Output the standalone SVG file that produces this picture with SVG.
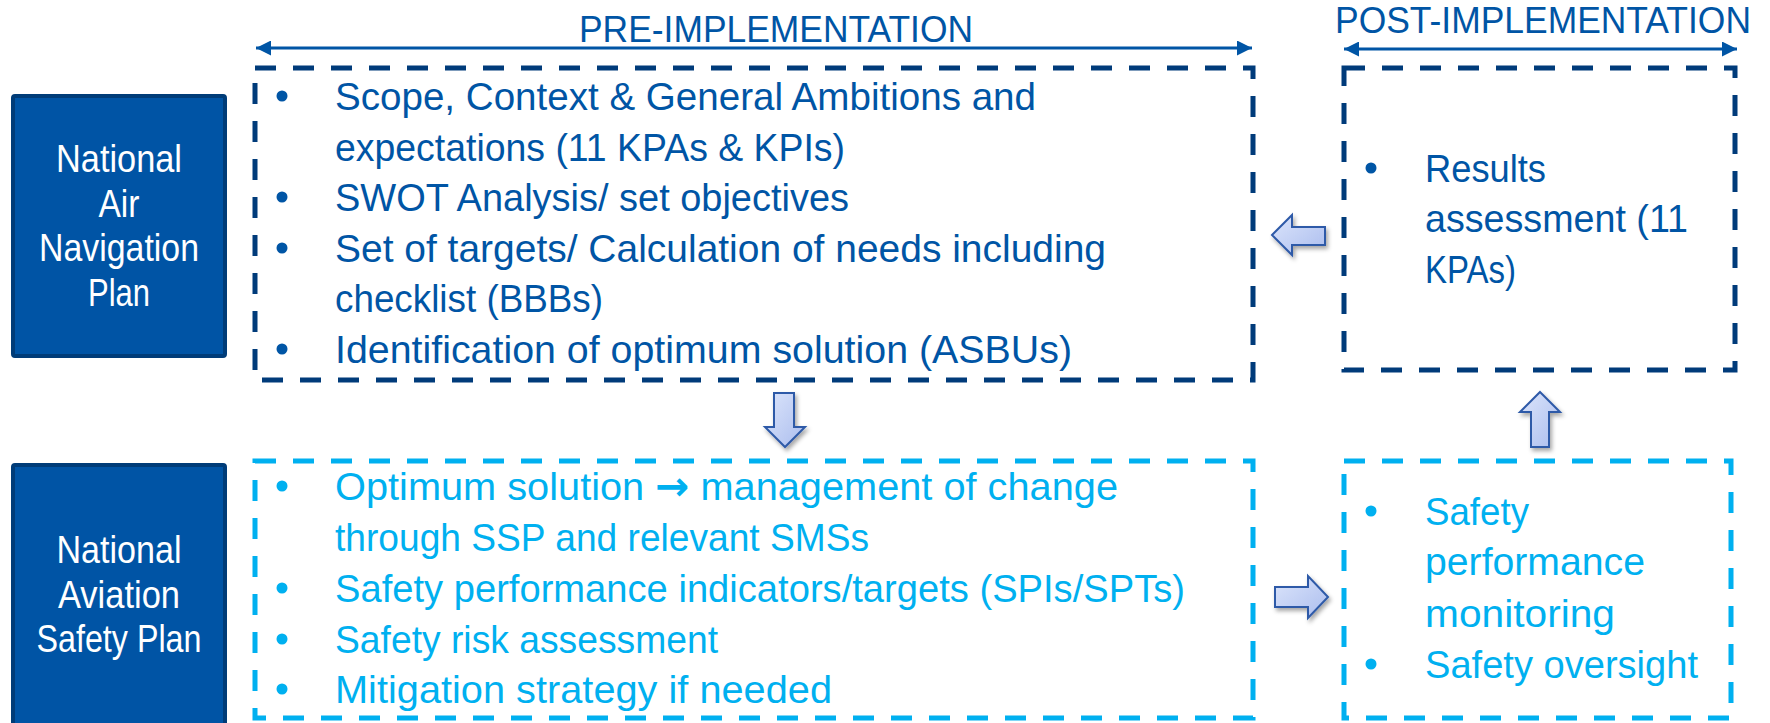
<svg xmlns="http://www.w3.org/2000/svg" width="1770" height="723" viewBox="0 0 1770 723">
<style>
text{font-family:"Liberation Sans",Arial,sans-serif;font-size:39px}
.dk{fill:#0055a5}
.lt{fill:#00b0f0}
.wh{fill:#ffffff;text-anchor:middle;font-size:38px}
.hdr{fill:#0055a5;font-size:36px}
.arr{font-family:"DejaVu Sans",sans-serif;font-size:40px;font-weight:bold}
.plan{fill:#0054a5;stroke:#003c78;stroke-width:4}
.dbox{fill:none;stroke:#003b7a;stroke-width:5;stroke-dasharray:21 17}
.lbox{fill:none;stroke:#00b0f0;stroke-width:5;stroke-dasharray:21 17}
.span{stroke:#0055a5;stroke-width:3;fill:none}
.blk{fill:url(#ag);stroke:#2e5aa8;stroke-width:2;filter:url(#sh)}
.bd{fill:#0055a5}
.bl{fill:#00b0f0}
</style>
<defs>
<marker id="ah" viewBox="0 0 10 10" refX="10" refY="5" markerWidth="17" markerHeight="15" markerUnits="userSpaceOnUse" orient="auto-start-reverse">
<path d="M0,0 L10,5 L0,10 z" fill="#0055a5"/>
</marker>
<linearGradient id="ag" x1="0" y1="0" x2="1" y2="1">
<stop offset="0" stop-color="#dce5fb"/>
<stop offset="1" stop-color="#abbdee"/>
</linearGradient>
<filter id="sh" x="-30%" y="-30%" width="160%" height="160%">
<feDropShadow dx="2" dy="3" stdDeviation="2" flood-color="#000" flood-opacity="0.35"/>
</filter>
</defs>

<g id="connectors">
<line class="span" x1="256" y1="48" x2="1252" y2="48" marker-start="url(#ah)" marker-end="url(#ah)"/>
<line class="span" x1="1344" y1="49" x2="1737" y2="49" marker-start="url(#ah)" marker-end="url(#ah)"/>
<polygon class="blk" points="1272,235 1292,215 1292,227 1325,227 1325,245 1292,245 1292,255"/>
<polygon class="blk" points="774,393 794,393 794,427 805,427 785,447 765,427 774,427"/>
<polygon class="blk" points="1540,392 1560,412 1549,412 1549,447 1531,447 1531,412 1520,412"/>
<polygon class="blk" points="1275,587 1308,587 1308,576 1328,597 1308,618 1308,607 1275,607"/>
</g>

<g id="headers">
<text class="hdr" x="579" y="42" textLength="394" lengthAdjust="spacingAndGlyphs">PRE-IMPLEMENTATION</text>
<text class="hdr" x="1335" y="33" textLength="416" lengthAdjust="spacingAndGlyphs">POST-IMPLEMENTATION</text>
</g>

<g id="node-nanp">
<rect class="plan" x="13" y="96" width="212" height="260" rx="2"/>
<text class="wh" x="119" y="172" textLength="126" lengthAdjust="spacingAndGlyphs">National</text>
<text class="wh" x="119" y="216.5" textLength="41" lengthAdjust="spacingAndGlyphs">Air</text>
<text class="wh" x="119" y="261" textLength="160" lengthAdjust="spacingAndGlyphs">Navigation</text>
<text class="wh" x="119" y="305.5" textLength="62" lengthAdjust="spacingAndGlyphs">Plan</text>
</g>

<g id="node-nasp">
<rect class="plan" x="13" y="465" width="212" height="300" rx="2"/>
<text class="wh" x="119" y="563" textLength="125" lengthAdjust="spacingAndGlyphs">National</text>
<text class="wh" x="119" y="608" textLength="122" lengthAdjust="spacingAndGlyphs">Aviation</text>
<text class="wh" x="119" y="652" textLength="165" lengthAdjust="spacingAndGlyphs">Safety Plan</text>
</g>

<g id="node-pre-anp">
<rect class="dbox" x="255" y="68" width="998" height="312"/>
<circle class="bd" cx="282" cy="96" r="5.5"/>
<circle class="bd" cx="282" cy="197" r="5.5"/>
<circle class="bd" cx="282" cy="248" r="5.5"/>
<circle class="bd" cx="282" cy="349" r="5.5"/>
<text class="dk" x="335" y="110" textLength="701" lengthAdjust="spacingAndGlyphs">Scope, Context &amp; General Ambitions and</text>
<text class="dk" x="335" y="160.6" textLength="510" lengthAdjust="spacingAndGlyphs">expectations (11 KPAs &amp; KPIs)</text>
<text class="dk" x="335" y="211.2" textLength="514" lengthAdjust="spacingAndGlyphs">SWOT Analysis/ set objectives</text>
<text class="dk" x="335" y="261.8" textLength="771" lengthAdjust="spacingAndGlyphs">Set of targets/ Calculation of needs including</text>
<text class="dk" x="335" y="312.4" textLength="268" lengthAdjust="spacingAndGlyphs">checklist (BBBs)</text>
<text class="dk" x="335" y="363" textLength="737" lengthAdjust="spacingAndGlyphs">Identification of optimum solution (ASBUs)</text>
</g>

<g id="node-post-anp">
<rect class="dbox" x="1344" y="68" width="391" height="302"/>
<circle class="bd" cx="1371" cy="168" r="5.5"/>
<text class="dk" x="1425" y="182" textLength="121" lengthAdjust="spacingAndGlyphs">Results</text>
<text class="dk" x="1425" y="232" textLength="263" lengthAdjust="spacingAndGlyphs">assessment (11</text>
<text class="dk" x="1425" y="283" textLength="91" lengthAdjust="spacingAndGlyphs">KPAs)</text>
</g>

<g id="node-pre-asp">
<rect class="lbox" x="255" y="461" width="998" height="257"/>
<circle class="bl" cx="282" cy="486" r="5.5"/>
<circle class="bl" cx="282" cy="588" r="5.5"/>
<circle class="bl" cx="282" cy="639" r="5.5"/>
<circle class="bl" cx="282" cy="689" r="5.5"/>
<text class="lt" x="335" y="500" textLength="783" lengthAdjust="spacingAndGlyphs">Optimum solution <tspan class="arr">→</tspan> management of change</text>
<text class="lt" x="335" y="551" textLength="534" lengthAdjust="spacingAndGlyphs">through SSP and relevant SMSs</text>
<text class="lt" x="335" y="602" textLength="850" lengthAdjust="spacingAndGlyphs">Safety performance indicators/targets (SPIs/SPTs)</text>
<text class="lt" x="335" y="653" textLength="383" lengthAdjust="spacingAndGlyphs">Safety risk assessment</text>
<text class="lt" x="335" y="703" textLength="497" lengthAdjust="spacingAndGlyphs">Mitigation strategy if needed</text>
</g>

<g id="node-post-asp">
<rect class="lbox" x="1344" y="461" width="387" height="257"/>
<circle class="bl" cx="1371" cy="511" r="5.5"/>
<circle class="bl" cx="1371" cy="664" r="5.5"/>
<text class="lt" x="1425" y="525" textLength="104" lengthAdjust="spacingAndGlyphs">Safety</text>
<text class="lt" x="1425" y="575" textLength="220" lengthAdjust="spacingAndGlyphs">performance</text>
<text class="lt" x="1425" y="627" textLength="190" lengthAdjust="spacingAndGlyphs">monitoring</text>
<text class="lt" x="1425" y="678" textLength="273" lengthAdjust="spacingAndGlyphs">Safety oversight</text>
</g>
</svg>
